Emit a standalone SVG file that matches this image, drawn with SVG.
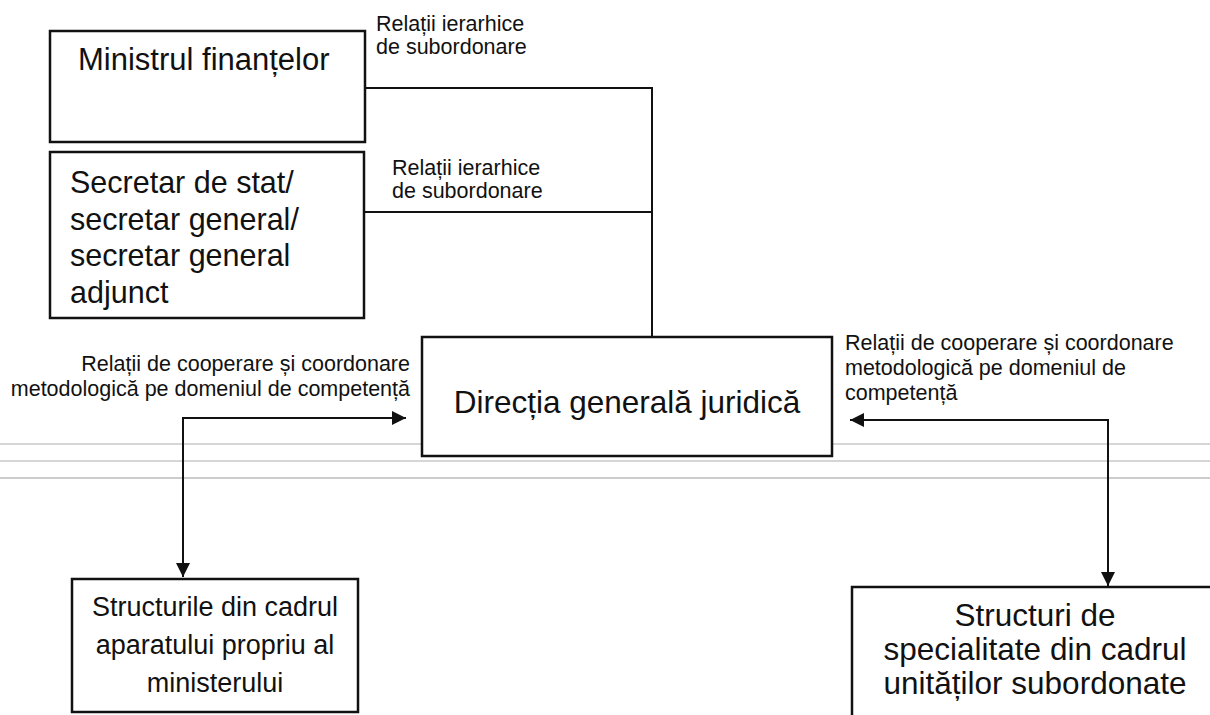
<svg xmlns="http://www.w3.org/2000/svg" width="1210" height="715" viewBox="0 0 1210 715">
  <style>
    .box { fill: #ffffff; stroke: #111111; stroke-width: 2.5; }
    .conn { fill: none; stroke: #111111; stroke-width: 2; }
    .scan { stroke: #c8c8c8; stroke-width: 1.5; }
    .scan2 { stroke: #9a9a9a; stroke-width: 1.2; }
    .t { font-family: "Liberation Sans", Arial, sans-serif; fill: #111111; }
    .lbl { font-family: "Liberation Sans", Arial, sans-serif; font-size: 21.5px; fill: #111111; }
    .big { font-size: 30.5px; }
  </style>
  <defs>
    <marker id="arrow" viewBox="0 0 14 14" refX="14" refY="7" markerWidth="14" markerHeight="14" markerUnits="userSpaceOnUse" orient="auto">
      <path d="M0,0 L14,7 L0,14 Z" fill="#111111"/>
    </marker>
  </defs>
  <rect x="0" y="0" width="1210" height="715" fill="#ffffff"/>

  <g id="scan-lines">
    <line class="scan" x1="0" y1="444" x2="1210" y2="444"/>
    <line class="scan" x1="0" y1="461" x2="1210" y2="461"/>
    <line class="scan2" x1="0" y1="478" x2="1210" y2="478"/>
  </g>

  <g id="connectors">
    <path class="conn" d="M365,88 H652 V337"/>
    <path class="conn" d="M364,212 H652"/>
    <path class="conn" d="M183,577 V418 H406" marker-end="url(#arrow)"/>
    <path class="conn" d="M183,418 V577" marker-end="url(#arrow)"/>
    <path class="conn" d="M1108,586 V420 H850" marker-end="url(#arrow)"/>
    <path class="conn" d="M1108,420 V586" marker-end="url(#arrow)"/>
  </g>

  <g id="labels">
    <text class="lbl" x="376" y="31">Relații ierarhice</text>
    <text class="lbl" x="376" y="54">de subordonare</text>
    <text class="lbl" x="392" y="175">Relații ierarhice</text>
    <text class="lbl" x="392" y="198">de subordonare</text>
    <text class="lbl" x="410" y="371" text-anchor="end">Relații de cooperare și coordonare</text>
    <text class="lbl" x="410" y="396" text-anchor="end">metodologică pe domeniul de competență</text>
    <text class="lbl" x="845" y="350">Relații de cooperare și coordonare</text>
    <text class="lbl" x="845" y="375">metodologică pe domeniul de</text>
    <text class="lbl" x="845" y="400">competență</text>
  </g>

  <g id="node-ministrul">
    <rect class="box" x="50" y="31" width="315" height="111"/>
    <text class="t" x="78" y="70" font-size="31">Ministrul finanțelor</text>
  </g>

  <g id="node-secretar">
    <rect class="box" x="50" y="152" width="314" height="166"/>
    <text class="t big" x="70" y="193">Secretar de stat/</text>
    <text class="t big" x="70" y="229.5">secretar general/</text>
    <text class="t big" x="70" y="266">secretar general</text>
    <text class="t big" x="70" y="302.5">adjunct</text>
  </g>

  <g id="node-directia">
    <rect class="box" x="422" y="337" width="410" height="119"/>
    <text class="t" x="627" y="413" font-size="31.5" text-anchor="middle">Direcția generală juridică</text>
  </g>

  <g id="node-structurile">
    <rect class="box" x="72" y="579" width="286" height="133"/>
    <text class="t" x="215" y="616" font-size="27" text-anchor="middle">Structurile din cadrul</text>
    <text class="t" x="215" y="654" font-size="27" text-anchor="middle">aparatului propriu al</text>
    <text class="t" x="215" y="692" font-size="27" text-anchor="middle">ministerului</text>
  </g>

  <g id="node-structuri-specialitate">
    <path class="box" d="M852,718 V587 H1214"/>
    <text class="t" x="1035" y="626" font-size="31.5" text-anchor="middle">Structuri de</text>
    <text class="t" x="1035" y="660" font-size="31.5" text-anchor="middle">specialitate din cadrul</text>
    <text class="t" x="1035" y="694" font-size="31.5" text-anchor="middle">unităților subordonate</text>
  </g>
</svg>
